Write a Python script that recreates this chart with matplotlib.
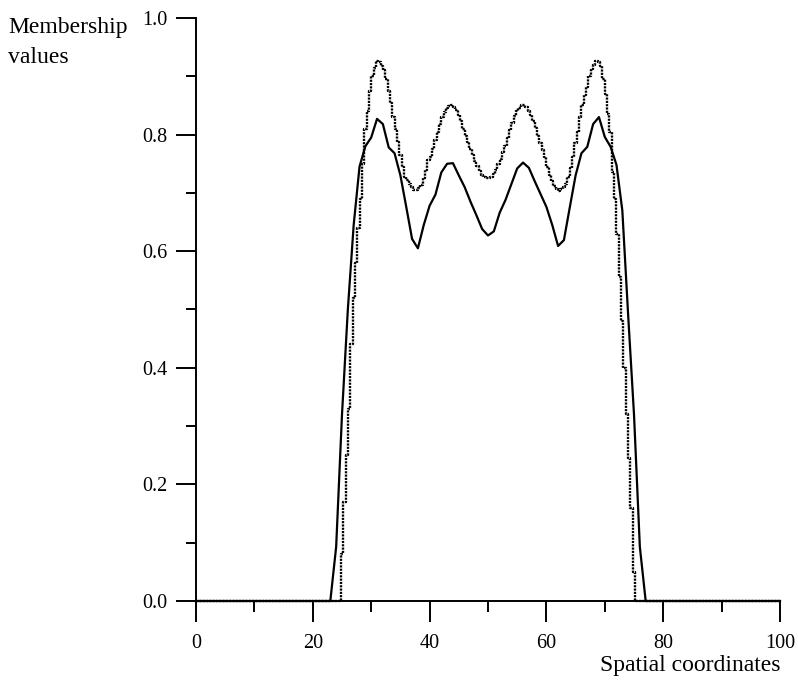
"""
Membership values along a 1-D spatial axis: two fuzzy membership profiles
(solid = coarse sampling, dotted = fine sampling drawn as steps).
"""

import matplotlib
matplotlib.use("Agg")
import matplotlib.pyplot as plt
import numpy as np

plt.rcParams['font.family'] = ['Liberation Serif', 'DejaVu Serif']

# solid profile, sampled every 1 unit from x = 23 to x = 77
solid_start = 23
solid_y = [
    0.0, 0.093, 0.32, 0.50, 0.645, 0.745, 0.78, 0.795, 0.827, 0.818,   # 23-32
    0.778, 0.768, 0.73, 0.676, 0.621, 0.605, 0.645, 0.678, 0.697, 0.735,  # 33-42
    0.75, 0.751, 0.73, 0.71, 0.685, 0.662, 0.638, 0.627, 0.634, 0.666,  # 43-52
    0.688, 0.715, 0.742, 0.752, 0.743, 0.72, 0.698, 0.676, 0.645, 0.609,  # 53-62
    0.619, 0.675, 0.73, 0.768, 0.779, 0.818, 0.83, 0.796, 0.779, 0.748,  # 63-72
    0.67, 0.49, 0.32, 0.093, 0.0,                                       # 73-77
]

# dotted profile, sampled every 0.4 unit from x = 24.6 to x = 75.8
dotted_start = 24.6
dotted_step = 0.4
dotted_y = [
    0.0, 0.08, 0.17, 0.25, 0.33, 0.44, 0.52, 0.58, 0.64, 0.69,          # 24.6-28.2
    0.75, 0.81, 0.84, 0.875, 0.90, 0.915, 0.927, 0.925, 0.918, 0.91,    # 28.6-32.2
    0.895, 0.875, 0.855, 0.83, 0.81, 0.787, 0.765, 0.745, 0.728, 0.722,  # 32.6-36.2
    0.716, 0.71, 0.705, 0.705, 0.708, 0.713, 0.725, 0.74, 0.756, 0.762,  # 36.6-40.2
    0.775, 0.79, 0.805, 0.819, 0.83, 0.839, 0.845, 0.849, 0.851, 0.848,  # 40.6-44.2
    0.842, 0.834, 0.824, 0.81, 0.798, 0.787, 0.776, 0.765, 0.755, 0.746,  # 44.6-48.2
    0.737, 0.731, 0.727, 0.725, 0.725, 0.728, 0.732, 0.74, 0.75, 0.758,  # 48.6-52.2
    0.77, 0.78, 0.795, 0.808, 0.82, 0.832, 0.84, 0.846, 0.85, 0.851,     # 52.6-56.2
    0.847, 0.841, 0.834, 0.824, 0.812, 0.798, 0.786, 0.773, 0.762, 0.745,  # 56.6-60.2
    0.73, 0.72, 0.712, 0.707, 0.704, 0.706, 0.71, 0.716, 0.728, 0.742,   # 60.6-64.2
    0.762, 0.785, 0.805, 0.83, 0.85, 0.868, 0.882, 0.90, 0.912, 0.92,    # 64.6-68.2
    0.927, 0.925, 0.918, 0.895, 0.87, 0.835, 0.805, 0.735, 0.69, 0.63,   # 68.6-72.2
    0.555, 0.48, 0.40, 0.32, 0.245, 0.16, 0.05, 0.0, 0.0,               # 72.6-75.8
]

x_ticks = [0, 20, 40, 60, 80, 100]
y_ticks = [0.0, 0.2, 0.4, 0.6, 0.8, 1.0]
y_tick_labels = ['0.0', '0.2', '0.4', '0.6', '0.8', '1.0']


def main():
    fig = plt.figure(figsize=(7.98, 6.82), dpi=100)
    ax = fig.add_axes([196 / 798, 1 - 601 / 682, 584 / 798, 583 / 682])

    # pad both series out to the full x range with zeros
    sx = solid_start + np.arange(len(solid_y))
    sx = np.concatenate([[0], sx, [100]])
    sy = np.concatenate([[0], solid_y, [0]])

    dx = np.round(dotted_start + dotted_step * np.arange(len(dotted_y)), 1)
    dx = np.concatenate([[0], dx, [100]])
    dy = np.concatenate([[0], dotted_y, [0]])

    ax.plot(sx, sy, color='black', lw=1.6, clip_on=False, zorder=3)
    ax.plot(dx, dy, color='black', lw=1.7, linestyle=(0, (0.9, 0.5)),
            drawstyle='steps-mid', clip_on=False, zorder=3)

    ax.set_xlim(0, 100)
    ax.set_ylim(0, 1.0)

    for side in ('top', 'right'):
        ax.spines[side].set_visible(False)
    for side in ('left', 'bottom'):
        ax.spines[side].set_linewidth(1.4)
        ax.spines[side].set_zorder(4)

    ax.set_xticks(x_ticks)
    ax.set_xticks(np.arange(10, 100, 20), minor=True)
    ax.set_yticks(y_ticks)
    ax.set_yticklabels(y_tick_labels)
    ax.set_yticks(np.arange(0.1, 1.0, 0.2), minor=True)

    ax.tick_params(axis='x', which='major', direction='out', length=15,
                   width=1.4, pad=9, labelsize=14.5)
    ax.tick_params(axis='x', which='minor', direction='out', length=8,
                   width=1.4)
    ax.tick_params(axis='y', which='major', direction='out', length=14.5,
                   width=1.4, pad=6, labelsize=14.5)
    ax.tick_params(axis='y', which='minor', direction='out', length=7.2,
                   width=1.4)

    fig.text(8 / 798, 1 - 33 / 682, 'Membership', fontsize=17,
             ha='left', va='baseline')
    fig.text(8 / 798, 1 - 63 / 682, 'values', fontsize=17,
             ha='left', va='baseline')
    fig.text(780 / 798, 1 - 671 / 682, 'Spatial coordinates', fontsize=17,
             ha='right', va='baseline')

    fig.savefig('out.png', dpi=100, facecolor='white')


if __name__ == "__main__":
    main()
